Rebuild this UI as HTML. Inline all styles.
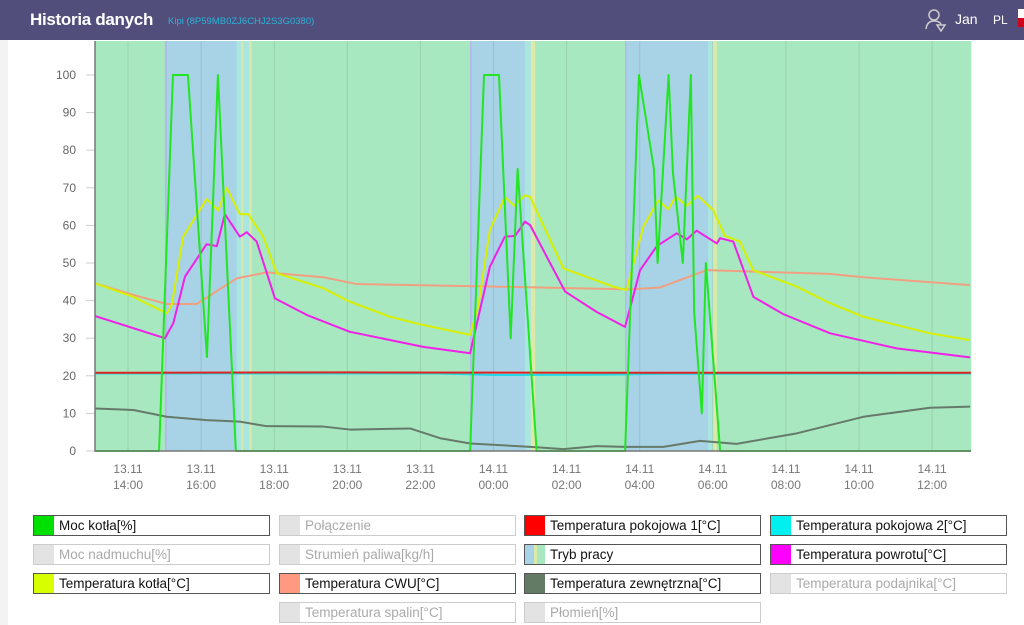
<!DOCTYPE html>
<html><head><meta charset="utf-8">
<style>
body{margin:0;width:1024px;height:625px;overflow:hidden;background:#fff;font-family:"Liberation Sans","Noto Sans CJK JP",sans-serif;position:relative}
#hdr{position:absolute;left:0;top:0;width:1024px;height:40px;background:#514e7c}
#strip{position:absolute;left:0;top:40px;width:8px;height:585px;background:#f3f3f3}
.lg{position:absolute;height:19px;width:235px;border:1px solid #555;box-sizing:content-box;font-size:13.5px;line-height:19px;color:#111}
.lg.off{border-color:#ccc;color:#aaa}
.lg .sw{position:absolute;left:0;top:0;width:20px;height:19px}
.lg .tx{position:absolute;left:25px;top:0;white-space:nowrap}
</style></head><body>
<div id="hdr">
 <div style="position:absolute;left:30px;top:10px;color:#fff;font-weight:bold;font-size:17px;letter-spacing:-0.3px">Historia danych</div>
 <div style="position:absolute;left:168px;top:16px;color:#2bb3d6;font-size:9.5px">Kipi (8P59MB0ZJ6CHJ2S3G0380)</div>
 <svg style="position:absolute;left:924px;top:8px" width="24" height="24" viewBox="0 0 24 24"><circle cx="10" cy="7" r="5" fill="none" stroke="#ccc" stroke-width="1.5"/><path d="M2 21 Q3 13 10 13 Q15 13 17 16 M13 17 L21 17 L17 23 Z" fill="none" stroke="#ccc" stroke-width="1.5"/></svg>
 <div style="position:absolute;left:955px;top:11px;color:#fff;font-size:14px">Jan</div>
 <div style="position:absolute;left:993px;top:13px;color:#fff;font-size:12px">PL</div>
 <div style="position:absolute;left:1018px;top:9px;width:6px;height:18px;background:linear-gradient(#fff 50%,#d0021b 50%)"></div>
</div>
<div id="strip"></div>
<svg id="chart" style="position:absolute;left:0;top:0" width="1024" height="500"></svg>
<div id="legend"></div>
<script>
const NS="http://www.w3.org/2000/svg";
const svg=document.getElementById('chart');
// time in hours from 13.11 00:00
const yTicks=[0,10,20,30,40,50,60,70,80,90,100];
const xTickTimes=[14,16,18,20,22,24,26,28,30,32,34,36];
const xTickDays=["13.11","13.11","13.11","13.11","13.11","14.11","14.11","14.11","14.11","14.11","14.11","14.11"];
const xTickHours=["14:00","16:00","18:00","20:00","22:00","00:00","02:00","04:00","06:00","08:00","10:00","12:00"];
// mode bands: start, end, mode
const bandStart=[13.10,15.01,15.06,16.97,17.10,17.15,17.32,17.38,23.36,23.40,24.86,25.02,25.14,27.60,27.64,29.87,30.00,30.11];
const bandEnd  =[15.01,15.06,16.97,17.10,17.15,17.32,17.38,23.36,23.40,24.86,25.02,25.14,27.60,27.64,29.87,30.00,30.11,37.06];
const bandMode =["g","l","b","c","y","c","y","g","l","b","c","y","g","l","b","c","y","g"];
const powerT=[13.10,14.85,15.23,15.64,16.16,16.46,16.95,23.36,23.74,24.15,24.47,24.66,25.18,27.60,27.98,28.39,28.49,28.79,28.91,29.18,29.40,29.49,29.70,29.81,30.20,37.06];
const powerV=[0,0,100,100,25,100,0,0,100,100,30,75,0,0,100,75,50,100,74,50,100,37,10,50,0,0];
const boilerT=[13.10,14.15,15.06,15.20,15.51,16.15,16.47,16.70,17.06,17.29,17.70,18.07,19.34,20.07,21.17,22.08,23.36,23.58,23.90,24.31,24.57,24.86,25.00,25.91,27.28,27.64,28.10,28.51,28.78,28.99,29.29,29.59,30.01,30.33,30.74,31.11,32.30,33.21,34.12,35.94,37.04];
const boilerV=[44.6,41,36.6,39,57,67,64,70,63,63,57,47.3,43.3,39.7,35.7,33.5,30.9,38.4,58.8,67.5,65.2,68,67.6,48.6,43.7,42.8,59.7,66.6,64.3,67.6,65.2,67.9,64.1,57.2,55.7,48.1,43.7,39.3,35.7,31.3,29.5];
const returnT=[13.10,15.01,15.24,15.56,16.15,16.43,16.65,17.06,17.25,17.52,18.02,18.89,20.07,22.08,23.36,23.90,24.31,24.59,24.86,25.00,25.96,26.82,27.60,28.01,28.47,29.01,29.29,29.56,30.11,30.20,30.56,31.11,31.93,33.21,35.03,37.04];
const returnV=[35.9,30,34,46.4,55,54.5,63,57,58.2,55.7,40.6,36.2,31.7,27.7,26,49,57,57.2,61,60.1,42.4,37,33,48.1,54.5,57.9,56.3,58.6,55.2,56.6,55.7,41,36.4,31.3,27.3,24.9];
const cwuT=[13.10,14.15,15.06,15.88,16.97,17.79,19.34,20.26,25.27,27.73,28.56,29.83,33.21,34.12,37.04];
const cwuV=[44.6,41.5,39.1,39.1,45.9,47.5,46.2,44.4,43.5,43,43.5,48.1,47.1,46.2,44.1];
const room1T=[13.10,20.0,27.0,37.06];
const room1V=[20.8,20.9,20.8,20.8];
const room2T=[13.10,22.5,24.0,27.0,28.5,37.06];
const room2V=[20.6,20.6,20.2,20.3,20.5,20.6];
const outT=[13.10,14.15,15.06,16.15,17.06,17.79,19.34,20.07,21.72,22.54,23.36,25.18,25.91,26.82,27.60,28.65,29.65,30.65,32.30,34.12,35.94,37.04];
const outV=[11.3,10.9,9.1,8.2,7.8,6.6,6.5,5.7,6,3.4,2,1,0.5,1.3,1.1,1.1,2.7,1.9,4.7,9.1,11.5,11.8];

const X0=95,X1=971,Y0=451,YTOP=41;
function xs(t){return 128+(t-14)*36.55;}
function ys(v){return 451-v*3.76;}
function el(tag,attrs){const e=document.createElementNS(NS,tag);for(const k in attrs)e.setAttribute(k,attrs[k]);svg.appendChild(e);return e;}
const modeCol={g:"#a8e8c0",b:"#a8d3e7",l:"#b3b7ea",c:"#a9e6e0",y:"#dce9a8"};
bandStart.forEach((s,i)=>{
 const r=el('rect',{x:xs(s),y:YTOP,width:Math.max(0,xs(bandEnd[i])-xs(s)+0.5),height:Y0-YTOP,fill:modeCol[bandMode[i]]});
 
 
});
xTickTimes.forEach((t,i)=>{
 const g=el('line',{x1:xs(t),x2:xs(t),y1:YTOP,y2:Y0,stroke:"rgba(60,90,70,0.15)","stroke-width":1});
 
 
 const a=el('text',{x:xs(t),y:473,"text-anchor":"middle","font-size":12,fill:"#777"});a.textContent=xTickDays[i];
 
 
 const b=el('text',{x:xs(t),y:489,"text-anchor":"middle","font-size":12,fill:"#777"});b.textContent=xTickHours[i];
 
 
});
yTicks.forEach(v=>{
 const l=el('line',{x1:86,x2:95,y1:ys(v),y2:ys(v),stroke:"#ccc"});
 
 
 const t=el('text',{x:76,y:ys(v)+4,"text-anchor":"end","font-size":12,fill:"#666"});t.textContent=v;
 
 
});
function line(T,V,col,w,name){
 const p=el('polyline',{points:T.map((t,i)=>xs(t)+","+ys(V[i])).join(" "),fill:"none",stroke:col,"stroke-width":w,"stroke-linejoin":"round"});
 
 
}
line(outT,outV,"#667a6a",2,"series-outdoor-temp");
line(room2T,room2V,"#22d8e8",2,"series-room-temp-2");
line(room1T,room1V,"#e0231e",2,"series-room-temp-1");
line(cwuT,cwuV,"#f0a080",2,"series-cwu-temp");
line(returnT,returnV,"#f020e8",2,"series-return-temp");
line(boilerT,boilerV,"#d8f000",2,"series-boiler-temp");
line(powerT,powerV,"#22e622",2,"series-boiler-power");
const ax=el('path',{d:`M${X0},${YTOP} L${X0},${Y0} L${X1},${Y0}`,fill:"none",stroke:"#777","stroke-width":1.5});



const legendNames=["Moc kotła[%]","Połączenie","Temperatura pokojowa 1[°C]","Temperatura pokojowa 2[°C]","Moc nadmuchu[%]","Strumień paliwa[kg/h]","Tryb pracy","Temperatura powrotu[°C]","Temperatura kotła[°C]","Temperatura CWU[°C]","Temperatura zewnętrzna[°C]","Temperatura podajnika[°C]",null,"Temperatura spalin[°C]","Płomień[%]",null];
const legendColors=["#00e000",null,"#ff0000","#00f0f0",null,null,"tryb","#ff00ff","#d8ff00","#ff9a80","#637a64",null,null,null,null,null];
const colX=[33,279,524,770],rowY=[515,544,573,602];
const lg=document.getElementById('legend');
legendNames.forEach((n,i)=>{
 if(!n)return;
 const d=document.createElement('div');
 d.className='lg'+(legendColors[i]?'':' off');
 d.style.left=colX[i%4]+'px';d.style.top=rowY[Math.floor(i/4)]+'px';
 
 
 const c=legendColors[i];
 const bg=c==="tryb"?"linear-gradient(90deg,#a8d3e7 0 9px,#dce9a8 9px 12px,#a8e8c0 12px)":(c||"#e3e3e3");
 d.innerHTML='<div class="sw" style="background:'+bg+'"></div><div class="tx">'+n+'</div>';
 lg.appendChild(d);
});
</script>
</body></html>
